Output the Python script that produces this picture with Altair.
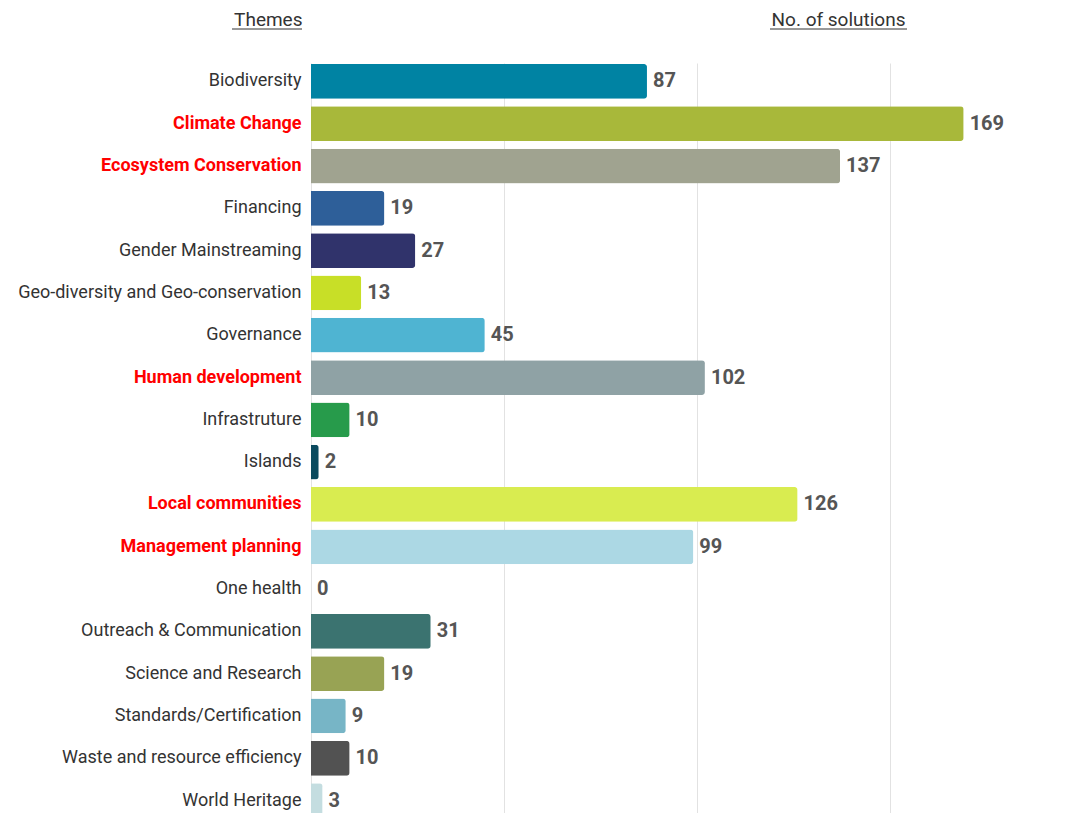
import altair as alt
import pandas as pd

themes = [
    "Biodiversity", "Climate Change", "Ecosystem Conservation", "Financing",
    "Gender Mainstreaming", "Geo-diversity and Geo-conservation", "Governance",
    "Human development", "Infrastruture", "Islands", "Local communities",
    "Management planning", "One health", "Outreach & Communication",
    "Science and Research", "Standards/Certification",
    "Waste and resource efficiency", "World Heritage",
]
solutions = [87, 169, 137, 19, 27, 13, 45, 102, 10, 2, 126, 99, 0, 31, 19, 9, 10, 3]
colors = [
    "#0083a3", "#a8b83a", "#a0a390", "#2e5f99", "#30336b", "#c8df27", "#4fb4d2",
    "#8fa2a5", "#279b4b", "#0a4a5e", "#d9ec50", "#acd8e4", "#ffffff", "#3b7370",
    "#98a354", "#77b5c6", "#525252", "#c4dde0",
]
highlighted = ["Climate Change", "Ecosystem Conservation", "Human development",
               "Local communities", "Management planning"]

df = pd.DataFrame({"theme": themes, "n": solutions})

FONT = "Roboto"
test = "indexof(" + str(highlighted) + ", datum.value) >= 0"

y_enc = alt.Y(
    "theme:N", sort=themes,
    scale=alt.Scale(range=[0, 756], paddingInner=0.178, paddingOuter=0.024),
    axis=alt.Axis(
        title="Themes", titleAngle=0, titleAlign="right", titleX=-9, titleY=-38,
        titleBaseline="alphabetic", titleFont=FONT, titleFontSize=19,
        titleFontWeight="normal", titleColor="#333333",
        labelFont=FONT, labelFontSize=18, labelPadding=10, labelLimit=400,
        labelColor={"condition": {"test": test, "value": "#ff0000"}, "value": "#333333"},
        labelFontWeight={"condition": {"test": test, "value": "bold"}, "value": "normal"},
        domain=False, ticks=False, grid=False,
    ),
)
x_enc = alt.X(
    "n:Q",
    scale=alt.Scale(domain=[0, 196.8], nice=False, zero=True),
    axis=alt.Axis(
        orient="top", title="No. of solutions", titleX=527, titleY=-38,
        titleAlign="center", titleBaseline="alphabetic", titleFont=FONT,
        titleFontSize=19, titleFontWeight="normal", titleColor="#333333",
        values=[0, 50, 100, 150], labels=False, ticks=False, domain=False,
        grid=True, gridColor="#e2e2e2", gridWidth=1,
    ),
)

bars = alt.Chart(df).mark_bar(cornerRadiusEnd=3).encode(
    x=x_enc, y=y_enc,
    color=alt.Color("theme:N", scale=alt.Scale(domain=themes, range=colors), legend=None),
)
labels = alt.Chart(df).mark_text(
    align="left", baseline="middle", dx=6, font=FONT, fontSize=20,
    fontWeight="bold", color="#555555",
).encode(x="n:Q", y=alt.Y("theme:N", sort=themes), text="n:Q")

under1 = alt.Chart(pd.DataFrame({"k": [0]})).mark_rule(color="#333333", strokeWidth=1).encode(
    x=alt.value(-79), x2=alt.value(-9), y=alt.value(-34)
)
under2 = alt.Chart(pd.DataFrame({"k": [0]})).mark_rule(color="#333333", strokeWidth=1).encode(
    x=alt.value(459), x2=alt.value(596), y=alt.value(-34)
)

chart = alt.layer(bars, labels, under1, under2).properties(
    width=760, height=750,
    autosize=alt.AutoSizeParams(type="none"),
    padding={"left": 303, "top": 55, "right": 0, "bottom": 0},
    background="white",
).configure_view(stroke=None)

chart.save("out.html", embed_options={"renderer": "svg", "actions": False})
